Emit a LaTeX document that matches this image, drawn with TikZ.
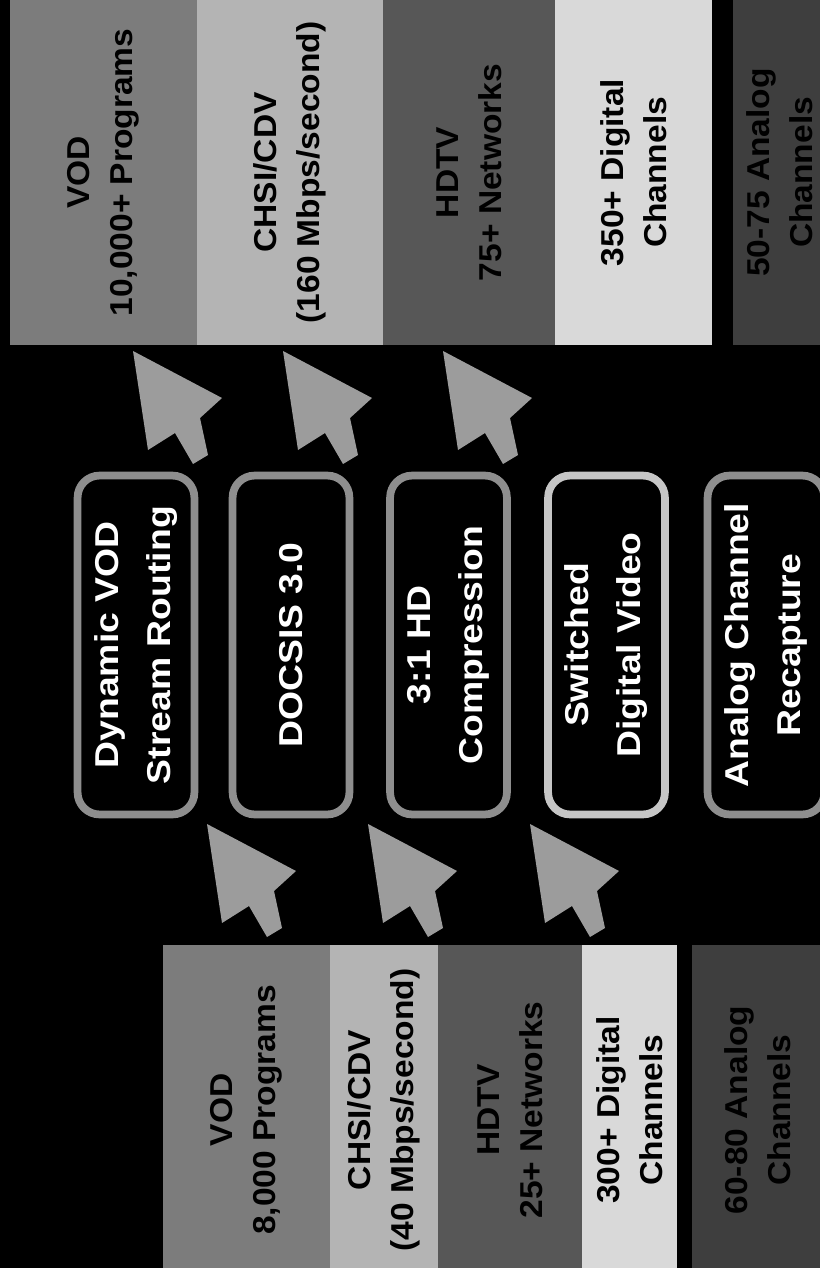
\documentclass[tikz,border=0pt]{standalone}
\usepackage{fontspec}
\newfontfamily\techfont[FakeStretch=1.13]{Liberation Sans}
\newfontfamily\barfont[FakeStretch=1.06]{Liberation Sans}
\usepackage{tikz}
\definecolor{frame}{HTML}{8E8E8E}
\definecolor{framelite}{HTML}{C6C6C6}
\definecolor{cursorgray}{HTML}{9C9C9C}
\definecolor{vodgray}{HTML}{7C7C7C}
\definecolor{datagray}{HTML}{B4B4B4}
\definecolor{hdgray}{HTML}{575757}
\definecolor{diggray}{HTML}{D9D9D9}
\definecolor{anagray}{HTML}{3E3E3E}

\begin{document}
\begin{tikzpicture}[x=0.025cm, y=-0.025cm, bar/.style={rotate=90,inner sep=0pt,align=center,text=black,font=\barfont\bfseries\fontsize{22.5}{30.5}\selectfont}, tech/.style={rotate=90,draw=frame,line width=5.5pt,fill=black,rounded corners=0.55cm,minimum width=8.47cm,minimum height=2.92cm,align=center,text=white,font=\techfont\bfseries\fontsize{23.5}{37}\selectfont}, cursor/.style={fill=cursorgray}]
\useasboundingbox (0,0) rectangle (820,1268);
\fill[black] (0,0) rectangle (820,1268);
\clip (0,0) rectangle (820,1268);
% today
\node[bar,fill=vodgray,minimum width=8.625cm,minimum height=4.675cm] (tvod) at (103.5,172.5) {VOD\\10,000+ Programs};
\node[bar,fill=datagray,minimum width=8.625cm,minimum height=4.65cm] (tdata) at (290,172.5) {CHSI/CDV\\(160 Mbps/second)};
\node[bar,fill=hdgray,minimum width=8.625cm,minimum height=4.3cm] (thd) at (469,172.5) {HDTV\\75+ Networks};
\node[bar,fill=diggray,minimum width=8.625cm,minimum height=3.925cm] (tdig) at (633.5,172.5) {350+ Digital\\Channels};
\fill[anagray] (733,0) rectangle (820,345);
\node[bar] (tana) at (780,172.5) {50-75 Analog\\Channels};
% before
\node[bar,fill=vodgray,minimum width=8.25cm,minimum height=4.175cm] (bvod) at (246.5,1110) {VOD\\8,000 Programs};
\node[bar,fill=datagray,minimum width=8.25cm,minimum height=2.7cm] (bdata) at (384,1110) {CHSI/CDV\\(40 Mbps/second)};
\node[bar,fill=hdgray,minimum width=8.25cm,minimum height=3.6cm] (bhd) at (510,1110) {HDTV\\25+ Networks};
\node[bar,fill=diggray,minimum width=8.25cm,minimum height=2.375cm] (bdig) at (629.5,1110) {300+ Digital\\Channels};
\node[bar,fill=anagray,minimum width=8.25cm,minimum height=3.3cm] (bana) at (758,1110) {60-80 Analog\\Channels};
% technologies
\node[tech] (routing) at (136,645) {Dynamic VOD\\Stream Routing};
\node[tech] (docsis) at (291,645) {DOCSIS 3.0};
\node[tech] (hdcomp) at (448.5,645) {3:1 HD\\Compression};
\node[tech,draw=framelite] (sdv) at (606.5,645) {Switched\\Digital Video};
\node[tech] (recap) at (766,645) {Analog Channel\\Recapture};
\foreach \ax/\ay in {133/351,283/351,443/351,207/824,368/824,530/824}{\fill[cursor,shift={(\ax,\ay)}] (0,0) -- (89,47) -- (67,67) -- (75,104) -- (60,113) -- (42,82) -- (15,99) -- cycle;}
\end{tikzpicture}
\end{document}
